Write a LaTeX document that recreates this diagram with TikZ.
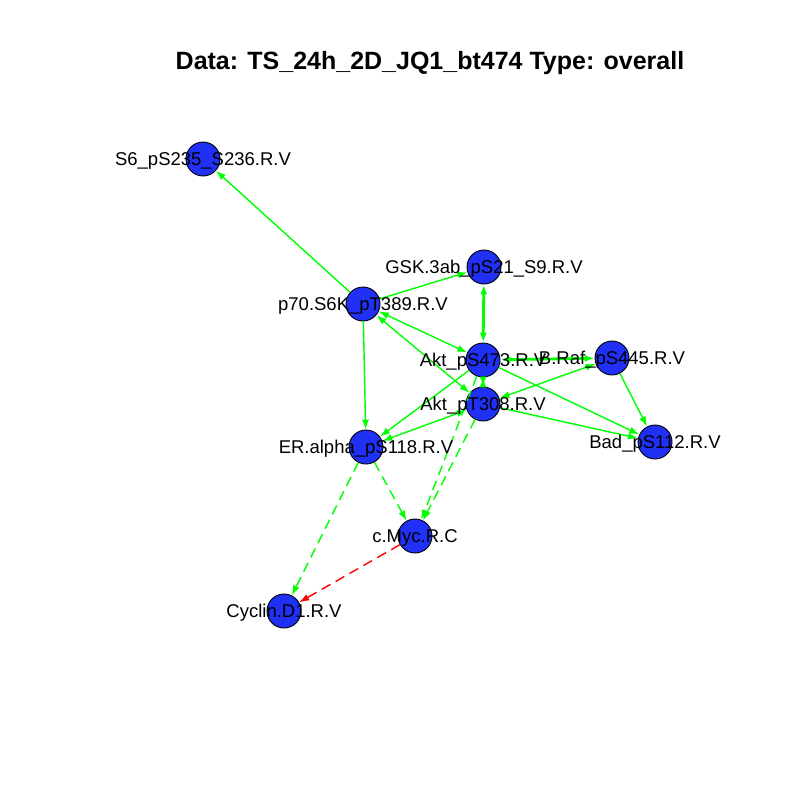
\documentclass[tikz,border=0pt]{standalone}
\usepackage{fontspec}
\setmainfont{Liberation Sans}
\usepackage{xcolor}
\usetikzlibrary{arrows.meta}
\definecolor{nodeblue}{RGB}{32,48,245}

\begin{document}
\begin{tikzpicture}[x=1pt, y=-1pt,
    >={Latex[length=10pt,width=7pt]},
    prot/.style={circle, draw=black, line width=0.9pt, fill=nodeblue, minimum size=34pt, inner sep=0pt},
    lbl/.style={font=\fontsize{18.5}{20}\selectfont, inner sep=0pt, yshift=-2pt},
    act/.style={draw=green, line width=1.4pt},
    dbl/.style={draw=green, line width=2.8pt},
    ind/.style={draw=green, line width=1.4pt, dash pattern=on 10pt off 6pt},
    inh/.style={draw=red, line width=1.4pt, dash pattern=on 10pt off 6pt}]
    \useasboundingbox (0,0) rectangle (800,800);

    % Title
    \node[font=\bfseries\fontsize{25}{28}\selectfont] (title) at (430,63) {Data: TS\_24h\_2D\_JQ1\_bt474 Type: overall};

    % Proteins
    \node[prot] (s6) at (203,159) {};
    \node[prot] (gsk) at (484,267) {};
    \node[prot] (ptk) at (363,304) {};
    \node[prot] (akts) at (483,360) {};
    \node[prot] (aktt) at (483,404) {};
    \node[prot] (braf) at (612,358) {};
    \node[prot] (bad) at (655,442) {};
    \node[prot] (er) at (366,447) {};
    \node[prot] (myc) at (415,536) {};
    \node[prot] (ccnd) at (284,611) {};

    % Edges
    \path[->]
        (ptk) edge[act] (s6)
        (ptk) edge[act] (gsk)
        (ptk) edge[act, <->] (akts)
        (ptk) edge[act, <->] (aktt)
        (ptk) edge[act] (er)
        (gsk) edge[dbl, <->] (akts)
        (akts) edge[dbl, <->] (aktt)
        (braf) edge[dbl, <->] (akts)
        (braf) edge[act, <->] (aktt)
        (akts) edge[act] (bad)
        (aktt) edge[act] (bad)
        (braf) edge[act] (bad)
        (akts) edge[act] (er)
        (aktt) edge[act, <->] (er)
        (akts) edge[ind] (myc)
        (aktt) edge[ind] (myc)
        (er) edge[ind] (myc)
        (er) edge[ind] (ccnd)
        (myc) edge[inh] (ccnd);

    % Labels
    \node[lbl] (s6t) at (s6) {S6\_pS235\_S236.R.V};
    \node[lbl] (gskt) at (gsk) {GSK.3ab\_pS21\_S9.R.V};
    \node[lbl] (ptkt) at (ptk) {p70.S6K\_pT389.R.V};
    \node[lbl] (akst) at (akts) {Akt\_pS473.R.V};
    \node[lbl] (aktt2) at (aktt) {Akt\_pT308.R.V};
    \node[lbl] (braft) at (braf) {B.Raf\_pS445.R.V};
    \node[lbl] (badt) at (bad) {Bad\_pS112.R.V};
    \node[lbl] (ert) at (er) {ER.alpha\_pS118.R.V};
    \node[lbl] (myct) at (myc) {c.Myc.R.C};
    \node[lbl] (ccndt) at (ccnd) {Cyclin.D1.R.V};
\end{tikzpicture}
\end{document}
